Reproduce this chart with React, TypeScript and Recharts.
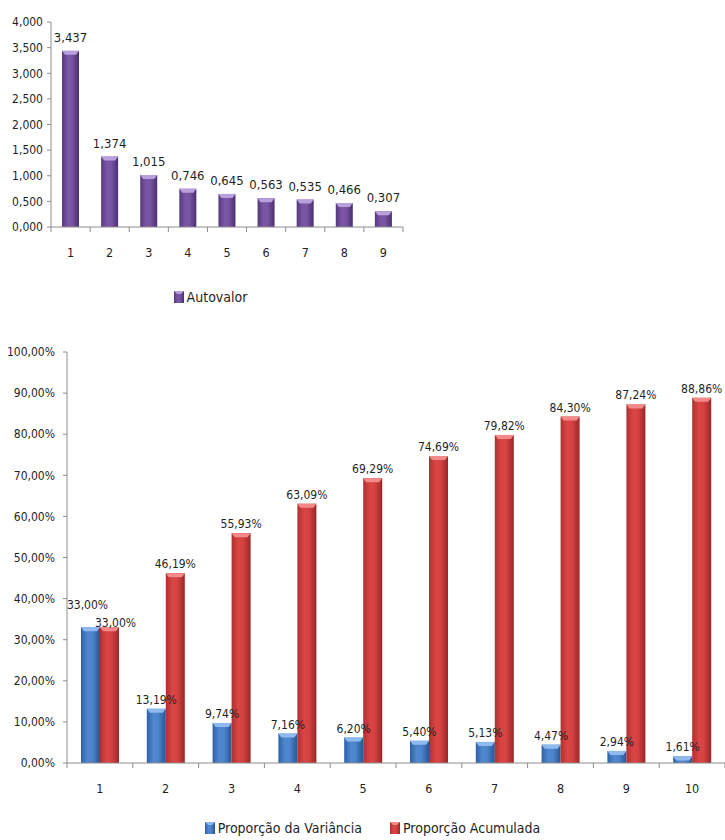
import React from 'react';
import { BarChart, Bar, XAxis, YAxis, LabelList, Legend } from 'recharts';

// ---------- data ----------
const components = ['1', '2', '3', '4', '5', '6', '7', '8', '9'];
const autovalor = [3.437, 1.374, 1.015, 0.746, 0.645, 0.563, 0.535, 0.466, 0.307];
const autovalorTicks = [0, 0.5, 1, 1.5, 2, 2.5, 3, 3.5, 4];

const factors = ['1', '2', '3', '4', '5', '6', '7', '8', '9', '10'];
const propVariancia = [33.0, 13.19, 9.74, 7.16, 6.2, 5.4, 5.13, 4.47, 2.94, 1.61];
const propAcumulada = [33.0, 46.19, 55.93, 63.09, 69.29, 74.69, 79.82, 84.3, 87.24, 88.86];
const percentTicks = [0, 10, 20, 30, 40, 50, 60, 70, 80, 90, 100];

const topData = components.map((c, i) => ({ name: c, autovalor: autovalor[i] }));
const bottomData = factors.map((c, i) => ({
  name: c,
  variancia: propVariancia[i],
  acumulada: propAcumulada[i],
}));

// ---------- styles ----------
const FONT = '"Liberation Sans Narrow", "DejaVu Sans Condensed", "Open Sans", sans-serif';
const TEXT = '#1f1f1f';
const AXIS = '#8c8c8c';

const fmt3 = (v: number) => v.toFixed(3).replace('.', ',');
const fmtPct = (v: number) => v.toFixed(2).replace('.', ',') + '%';

const makeShape = (gradId: string, capColor: string) => (props: any) => {
  const { x, y, width, height } = props;
  if (!height || height <= 0) return <g />;
  const cap = Math.min(4, height);
  return (
    <g>
      <rect x={x} y={y} width={width} height={height} fill={`url(#${gradId})`} />
      <polygon
        points={`${x},${y} ${x + width},${y} ${x + width - 3},${y + cap} ${x + 3},${y + cap}`}
        fill={capColor}
      />
    </g>
  );
};

const purpleShape = makeShape('gPurple', '#b9a0dc');
const blueShape = makeShape('gBlue', '#8fbaf0');
const redShape = makeShape('gRed', '#f28a8a');

const makeCategoryTick = (band: number, fontSize: number, dy: number) => (props: any) => {
  const { x, y, payload, index, visibleTicksCount } = props;
  const left = x - band / 2;
  const right = x + band / 2;
  return (
    <g>
      <line x1={left} y1={y} x2={left} y2={y + 5} stroke={AXIS} />
      {index === visibleTicksCount - 1 && <line x1={right} y1={y} x2={right} y2={y + 5} stroke={AXIS} />}
      <text x={x} y={y + dy} textAnchor="middle" fontSize={fontSize} fontFamily={FONT} fill={TEXT}>
        {payload.value}
      </text>
    </g>
  );
};

const LegendSwatch = ({ grad, cap }: { grad: string; cap: string }) => (
  <svg width={10} height={12} style={{ display: 'block' }}>
    <rect x={0} y={0} width={10} height={12} fill={`url(#${grad})`} />
    <polygon points="0,0 10,0 7,3 3,3" fill={cap} />
  </svg>
);

const topLabel = (props: any) => {
  const vb = props.viewBox || props;
  const { x, y, width } = vb;
  return (
    <text x={x + width / 2} y={y - 9} textAnchor="middle" fontSize={13} fontFamily={FONT} fill={TEXT}>
      {fmt3(Number(props.value))}
    </text>
  );
};

const makePctLabel = (series: 'v' | 'a') => (props: any) => {
  const vb = props.viewBox || props;
  const { x, y, width } = vb;
  let cx = x + width / 2;
  let cy = y - 5;
  if (props.index === 0) {
    if (series === 'v') {
      cx -= 3;
      cy = y - 18;
    } else {
      cx += 6;
      cy = y;
    }
  }
  return (
    <text x={cx} y={cy} textAnchor="middle" fontSize={12} fontFamily={FONT} fill={TEXT}>
      {fmtPct(Number(props.value))}
    </text>
  );
};

// ---------- layout numbers ----------
const TOP_W = 415;
const TOP_H = 310;
const TOP_MARGIN = { top: 22, right: 12, left: 0, bottom: 0 };
const TOP_YW = 51;
const TOP_BAND = (TOP_W - TOP_MARGIN.left - TOP_MARGIN.right - TOP_YW) / components.length;

const BOT_W = 725;
const BOT_H = 505;
const BOT_MARGIN = { top: 17, right: 0, left: 0, bottom: 0 };
const BOT_YW = 67;
const BOT_BAND = (BOT_W - BOT_MARGIN.left - BOT_MARGIN.right - BOT_YW) / factors.length;

export default function App() {
  return (
    <div
      style={{
        position: 'absolute',
        left: 0,
        top: 0,
        width: 725,
        height: 840,
        background: '#ffffff',
        fontFamily: FONT,
        overflow: 'hidden',
      }}
    >
      <svg width={0} height={0} style={{ position: 'absolute' }}>
        <defs>
          <linearGradient id="gPurple" x1="0" y1="0" x2="1" y2="0">
            <stop offset="0%" stopColor="#56387f" />
            <stop offset="35%" stopColor="#7a56a5" />
            <stop offset="60%" stopColor="#7854a2" />
            <stop offset="100%" stopColor="#4a2f70" />
          </linearGradient>
          <linearGradient id="gBlue" x1="0" y1="0" x2="1" y2="0">
            <stop offset="0%" stopColor="#2d61a6" />
            <stop offset="35%" stopColor="#4f87d0" />
            <stop offset="60%" stopColor="#4d84cc" />
            <stop offset="100%" stopColor="#275594" />
          </linearGradient>
          <linearGradient id="gRed" x1="0" y1="0" x2="1" y2="0">
            <stop offset="0%" stopColor="#b03030" />
            <stop offset="35%" stopColor="#da4545" />
            <stop offset="60%" stopColor="#d64242" />
            <stop offset="100%" stopColor="#992727" />
          </linearGradient>
        </defs>
      </svg>

      <div style={{ position: 'absolute', left: 0, top: 0 }}>
        <BarChart width={TOP_W} height={TOP_H} data={topData} margin={TOP_MARGIN} barCategoryGap={0}>
          <XAxis
            dataKey="name"
            height={57}
            axisLine={{ stroke: AXIS }}
            tickLine={false}
            tickSize={0}
            tickMargin={0}
            interval={0}
            tick={makeCategoryTick(TOP_BAND, 12.5, 30)}
          />
          <YAxis
            width={TOP_YW}
            domain={[0, 4]}
            ticks={autovalorTicks}
            interval={0}
            axisLine={{ stroke: AXIS }}
            tickLine={{ stroke: AXIS }}
            tickSize={4}
            tickMargin={4}
            tickFormatter={fmt3}
            tick={{ fontSize: 12, fontFamily: FONT, fill: TEXT }}
          />
          <Legend
            verticalAlign="bottom"
            height={26}
            content={() => (
              <div
                style={{
                  display: 'flex',
                  justifyContent: 'center',
                  alignItems: 'center',
                  height: 26,
                  paddingLeft: 18,
                }}
              >
                <LegendSwatch grad="gPurple" cap="#b9a0dc" />
                <span style={{ marginLeft: 3, fontSize: 14, fontFamily: FONT, color: TEXT }}>Autovalor</span>
              </div>
            )}
          />
          <Bar dataKey="autovalor" barSize={17} shape={purpleShape} isAnimationActive={false}>
            <LabelList dataKey="autovalor" content={topLabel} />
          </Bar>
        </BarChart>
      </div>

      <div style={{ position: 'absolute', left: 0, top: 335 }}>
        <BarChart
          width={BOT_W}
          height={BOT_H}
          data={bottomData}
          margin={BOT_MARGIN}
          barGap={0}
          barCategoryGap={0}
        >
          <XAxis
            dataKey="name"
            height={53}
            axisLine={{ stroke: AXIS }}
            tickLine={false}
            tickSize={0}
            tickMargin={0}
            interval={0}
            tick={makeCategoryTick(BOT_BAND, 12.5, 30)}
          />
          <YAxis
            width={BOT_YW}
            domain={[0, 100]}
            ticks={percentTicks}
            interval={0}
            axisLine={{ stroke: AXIS }}
            tickLine={{ stroke: AXIS }}
            tickSize={4}
            tickMargin={8}
            tickFormatter={fmtPct}
            tick={{ fontSize: 12, fontFamily: FONT, fill: TEXT }}
          />
          <Legend
            verticalAlign="bottom"
            height={24}
            content={() => (
              <div
                style={{
                  display: 'flex',
                  justifyContent: 'center',
                  alignItems: 'center',
                  height: 24,
                  paddingLeft: 20,
                }}
              >
                <LegendSwatch grad="gBlue" cap="#8fbaf0" />
                <span style={{ marginLeft: 3, fontSize: 14, fontFamily: FONT, color: TEXT }}>
                  Proporção da Variância
                </span>
                <span style={{ width: 28 }} />
                <LegendSwatch grad="gRed" cap="#f28a8a" />
                <span style={{ marginLeft: 3, fontSize: 14, fontFamily: FONT, color: TEXT }}>
                  Proporção Acumulada
                </span>
              </div>
            )}
          />
          <Bar dataKey="variancia" barSize={19} shape={blueShape} isAnimationActive={false}>
            <LabelList dataKey="variancia" content={makePctLabel('v')} />
          </Bar>
          <Bar dataKey="acumulada" barSize={19} shape={redShape} isAnimationActive={false}>
            <LabelList dataKey="acumulada" content={makePctLabel('a')} />
          </Bar>
        </BarChart>
      </div>
    </div>
  );
}
